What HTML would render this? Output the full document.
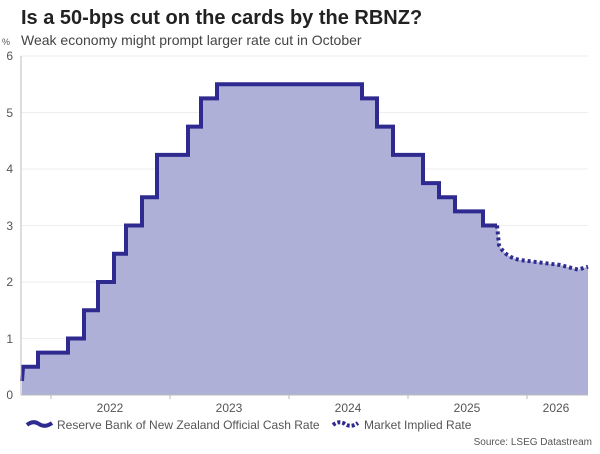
<!DOCTYPE html>
<html><head><meta charset="utf-8"><style>
body{margin:0;background:#fff;width:600px;height:449px;overflow:hidden;font-family:"Liberation Sans",sans-serif}
</style></head><body>
<svg width="600" height="449" xmlns="http://www.w3.org/2000/svg" font-family="Liberation Sans, sans-serif">
<text x="21" y="24" font-size="20" font-weight="bold" fill="#222">Is a 50-bps cut on the cards by the RBNZ?</text>
<text x="2" y="45" font-size="9" fill="#555">%</text>
<text x="21" y="45" font-size="14" fill="#444">Weak economy might prompt larger rate cut in October</text>
<g stroke="#eee" stroke-width="1">
<line x1="21" y1="338.5" x2="588" y2="338.5"/><line x1="21" y1="282" x2="588" y2="282"/><line x1="21" y1="225.5" x2="588" y2="225.5"/><line x1="21" y1="169" x2="588" y2="169"/><line x1="21" y1="112.5" x2="588" y2="112.5"/><line x1="21" y1="56" x2="588" y2="56"/>
</g>
<path d="M22,395 L22,381 L23,366.75 L38,366.75 L38,352.6 L68,352.6 L68,338.5 L84,338.5 L84,310.25 L98,310.25 L98,282 L114,282 L114,253.75 L126,253.75 L126,225.5 L142,225.5 L142,197.25 L157,197.25 L157,154.9 L188,154.9 L188,126.6 L201,126.6 L201,98.4 L217,98.4 L217,84.25 L362,84.25 L362,98.4 L377,98.4 L377,126.6 L393,126.6 L393,154.9 L423,154.9 L423,183.1 L439,183.1 L439,197.25 L455,197.25 L455,211.4 L483,211.4 L483,225.5 L497,225.5 L499,245 Q505,257 520,260 L560,265 L578,269.6 L588,266.7 L588,395 Z" fill="#aeb0d8"/>
<path d="M22,381 L23,366.75 L38,366.75 L38,352.6 L68,352.6 L68,338.5 L84,338.5 L84,310.25 L98,310.25 L98,282 L114,282 L114,253.75 L126,253.75 L126,225.5 L142,225.5 L142,197.25 L157,197.25 L157,154.9 L188,154.9 L188,126.6 L201,126.6 L201,98.4 L217,98.4 L217,84.25 L362,84.25 L362,98.4 L377,98.4 L377,126.6 L393,126.6 L393,154.9 L423,154.9 L423,183.1 L439,183.1 L439,197.25 L455,197.25 L455,211.4 L483,211.4 L483,225.5 L497,225.5" fill="none" stroke="#2e2a8f" stroke-width="4"/>
<path d="M497,225.5 L499,245 Q505,257 520,260 L560,265 L578,269.6 L588,266.7" fill="none" stroke="#2e2a8f" stroke-width="4" stroke-dasharray="3,3"/>
<g stroke="#bbb" stroke-width="1">
<line x1="21" y1="56" x2="21" y2="395"/><line x1="21" y1="395" x2="588" y2="395"/>
<line x1="51" y1="395" x2="51" y2="399"/><line x1="170" y1="395" x2="170" y2="399"/><line x1="289" y1="395" x2="289" y2="399"/><line x1="408" y1="395" x2="408" y2="399"/><line x1="527" y1="395" x2="527" y2="399"/>
</g>
<g font-size="12" fill="#555" text-anchor="end">
<text x="13" y="399">0</text><text x="13" y="343">1</text><text x="13" y="286">2</text><text x="13" y="230">3</text><text x="13" y="173">4</text><text x="13" y="117">5</text><text x="13" y="60">6</text>
</g>
<g font-size="12" fill="#555" text-anchor="middle">
<text x="110" y="412">2022</text><text x="229" y="412">2023</text><text x="348" y="412">2024</text><text x="467" y="412">2025</text><text x="556" y="412">2026</text>
</g>
<path d="M27,425 Q33,420 39,424 Q45,428 52,423" fill="none" stroke="#2e2a8f" stroke-width="4"/>
<text x="57" y="429" font-size="12" fill="#555">Reserve Bank of New Zealand Official Cash Rate</text>
<path d="M333,425 Q339,420 345,424 Q351,428 358,423" fill="none" stroke="#2e2a8f" stroke-width="4" stroke-dasharray="3,2"/>
<text x="364" y="429" font-size="12" fill="#555">Market Implied Rate</text>
<text x="592" y="445" font-size="10" fill="#555" text-anchor="end">Source: LSEG Datastream</text>
</svg>
</body></html>
